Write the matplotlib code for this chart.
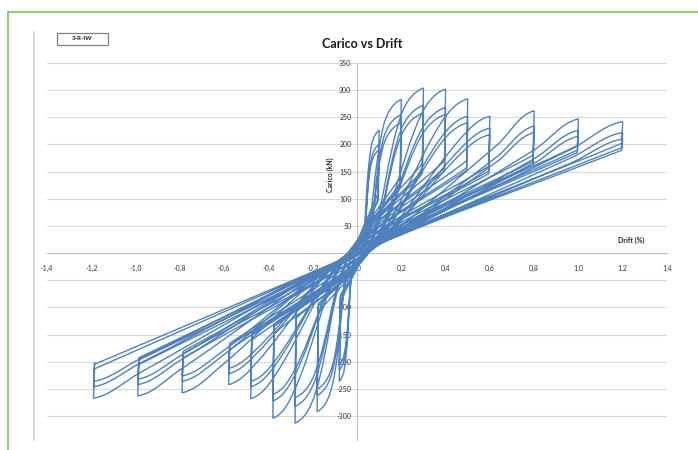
import numpy as np
import matplotlib
matplotlib.use("Agg")
import matplotlib.pyplot as plt
from matplotlib.path import Path
from matplotlib.patches import PathPatch, Rectangle
from matplotlib.lines import Line2D

plt.rcParams['font.family'] = ['Lato', 'DejaVu Sans']

# drift levels (%) of each group of cycles
drift_pos = [0.10, 0.20, 0.30, 0.40, 0.50, 0.60, 0.80, 1.00, 1.20]
drift_neg = [-0.08, -0.18, -0.28, -0.38, -0.48, -0.58, -0.79, -0.99, -1.19]

# peak loads (kN), three cycles per level
peak_pos = [[226, 200, 190], [283, 255, 240], [304, 272, 258], [302, 268, 255],
            [284, 252, 240], [252, 230, 218], [262, 234, 222], [247, 226, 215],
            [242, 222, 210]]
peak_neg = [[-236, -215, -205], [-292, -262, -250], [-313, -282, -266], [-304, -272, -260],
            [-268, -246, -236], [-242, -222, -212], [-257, -236, -226], [-263, -242, -232],
            [-267, -246, -236]]

# load after the steep unloading at the peak drift (first cycle)
drop_pos = [110, 140, 165, 170, 170, 160, 180, 198, 202]
drop_neg = [-90, -110, -120, -148, -160, -178, -193, -205, -213]

# knee of the loading branch (first cycle)
knee_pos_x = [0.06, 0.12, 0.20, 0.29, 0.38, 0.47, 0.63, 0.80, 0.97]
knee_pos_y = [185, 235, 255, 255, 240, 212, 198, 190, 192]
knee_neg_x = [-0.05, -0.11, -0.19, -0.28, -0.37, -0.45, -0.62, -0.80, -0.98]
knee_neg_y = [-190, -240, -260, -250, -225, -200, -210, -215, -220]

# zero-load crossings when loading towards + and towards -
zero_up = [0.02, 0.03, 0.04, 0.05, 0.05, 0.05, 0.04, 0.02, 0.0]
zero_dn = [-0.01, -0.02, -0.03, -0.04, -0.04, -0.04, -0.03, -0.02, 0.0]

x_ticks = [-1.4, -1.2, -1.0, -0.8, -0.6, -0.4, -0.2, 0.0, 0.2, 0.4, 0.6, 0.8, 1.0, 1.2, 1.4]
y_ticks = [-300, -250, -200, -150, -100, -50, 0, 50, 100, 150, 200, 250, 300, 350]

SX, SY = 221.0, 0.542  # px per unit, keeps tangents isotropic


def unit(vx, vy):
    px, py = vx * SX, vy * SY
    n = np.hypot(px, py) or 1.0
    return px / n, py / n


def seg(a, b, ta, tb):
    L = np.hypot((b[0] - a[0]) * SX, (b[1] - a[1]) * SY) / 3
    c1 = (a[0] + ta[0] * L / SX, a[1] + ta[1] * L / SY)
    c2 = (b[0] - tb[0] * L / SX, b[1] - tb[1] * L / SY)
    return [c1, c2, b]


def half(D, Z, K, P):
    tD = unit(Z[0] - D[0], Z[1] - D[1])
    tZ = unit(K[0] - D[0], K[1] - D[1])
    tK = unit(P[0] - Z[0], P[1] - Z[1])
    tP = unit(P[0] - K[0], 0.3 * (P[1] - K[1]))
    return seg(D, Z, tD, tZ) + seg(Z, K, tZ, tK) + seg(K, P, tK, tP)


verts = [(-0.02, -20)]
codes = [Path.MOVETO]
for i in range(len(drift_pos)):
    for k in range(3):
        rp = peak_pos[i][k] / peak_pos[i][0]
        rn = peak_neg[i][k] / peak_neg[i][0]
        P = (drift_pos[i], peak_pos[i][k])
        pts = half(verts[-1], (zero_up[i], 0), (knee_pos_x[i], knee_pos_y[i] * rp), P)
        verts += pts
        codes += [Path.CURVE4] * len(pts)
        dp = drop_pos[i] - 0.4 * (peak_pos[i][0] - peak_pos[i][k])
        verts.append((drift_pos[i] - 0.005, dp))
        codes.append(Path.LINETO)
        N = (drift_neg[i], peak_neg[i][k])
        pts = half(verts[-1], (zero_dn[i], 0), (knee_neg_x[i], knee_neg_y[i] * rn), N)
        verts += pts
        codes += [Path.CURVE4] * len(pts)
        dn = drop_neg[i] - 0.4 * (peak_neg[i][0] - peak_neg[i][k])
        verts.append((drift_neg[i] + 0.005, dn))
        codes.append(Path.LINETO)

fig = plt.figure(figsize=(6.98, 4.5), dpi=100)
ax = fig.add_axes([47 / 698, 10 / 450, 620 / 698, 377 / 450])

ax.add_patch(PathPatch(Path(verts, codes), fill=False, edgecolor='#4f81bd', lw=1.0, zorder=3))

ax.set_xlim(-1.4, 1.4)
ax.set_ylim(-344, 350)
ax.set_xticks(x_ticks)
ax.set_xticklabels([f"{v:.1f}".replace('.', ',') for v in x_ticks])
ax.set_yticks(y_ticks)
ax.set_yticklabels([str(v) for v in y_ticks])
ax.tick_params(length=0, labelsize=5, colors='#333333')
ax.tick_params(axis='x', pad=8.5)
ax.tick_params(axis='y', pad=4)
for side in ['top', 'right']:
    ax.spines[side].set_visible(False)
ax.spines['left'].set_position(('data', 0))
ax.spines['bottom'].set_position(('data', 0))
for side in ['left', 'bottom']:
    ax.spines[side].set_color('#bfbfbf')
    ax.spines[side].set_linewidth(0.8)
ax.yaxis.grid(True, color='#d9d9d9', lw=0.8)
ax.set_axisbelow(True)

ax.text(-0.122, 144, 'Carico (kN)', rotation=90, ha='center', va='center',
        fontsize=5, fontweight='bold', color='#262626')
ax.text(1.24, 24, 'Drift (%)', ha='center', va='center',
        fontsize=5, fontweight='bold', color='#262626')

fig.text(362 / 698, 1 - 44 / 450, 'Carico vs Drift', ha='center', va='center',
         fontsize=9, fontweight='bold', color='#1a1a1a')
fig.patches.append(Rectangle((57 / 698, 1 - 45 / 450), 51 / 698, 12 / 450,
                             transform=fig.transFigure, fill=False,
                             edgecolor='#7f7f7f', lw=0.9))
fig.text(82.5 / 698, 1 - 39 / 450, '3-R-IW', ha='center', va='center',
         fontsize=4.5, fontweight='bold', color='#1a1a1a')

fig.lines.append(Line2D([34 / 698, 34 / 698], [1 - 32 / 450, 1 - 440 / 450],
                        transform=fig.transFigure, color='#d0d0d0', lw=1.2))
fig.patches.append(Rectangle((8 / 698, -0.1), 1.0, 1 - 12 / 450 + 0.1,
                             transform=fig.transFigure, fill=False,
                             edgecolor='#9cc97f', lw=1.6))

fig.savefig('out.png', dpi=100)
